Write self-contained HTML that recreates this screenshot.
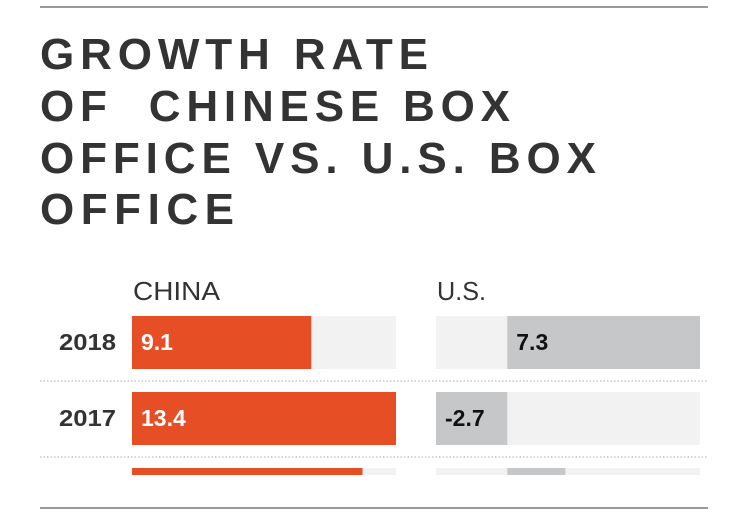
<!DOCTYPE html>
<html><head><meta charset="utf-8"><style>
html,body{margin:0;padding:0;background:#fff;}
svg{display:block;font-family:"Liberation Sans",sans-serif;}
</style></head><body>
<svg id="chart" width="750" height="521" viewBox="0 0 750 521" xmlns="http://www.w3.org/2000/svg">
  <rect x="40" y="6" width="668" height="2" fill="#999"/>
  <g fill="#333" font-weight="bold" font-size="44">
    <text x="40" y="69" textLength="388" lengthAdjust="spacing">GROWTH RATE</text>
    <text x="40" y="121" textLength="470" lengthAdjust="spacing" xml:space="preserve">OF  CHINESE BOX</text>
    <text x="40" y="173" textLength="556" lengthAdjust="spacing">OFFICE VS. U.S. BOX</text>
    <text x="40" y="224" textLength="194" lengthAdjust="spacing">OFFICE</text>
  </g>
  <text x="133" y="300" font-size="26" fill="#333" textLength="87" lengthAdjust="spacingAndGlyphs">CHINA</text>
  <text x="437" y="300" font-size="26" fill="#333" textLength="49" lengthAdjust="spacingAndGlyphs">U.S.</text>
  <g id="rows"></g>
  <rect x="40" y="507" width="668" height="2" fill="#999"/>
</svg>
<script>
const years = ["2018", "2017", "2016"];
const chinaValues = [9.1, 13.4, 11.7];
const usValues = [7.3, -2.7, 2.2];
const chinaDomain = [0, 13.4];
const usDomain = [-2.7, 7.3];

const NS = "http://www.w3.org/2000/svg";
const g = document.getElementById("rows");
const chinaX = v => 132 + (v - chinaDomain[0]) / (chinaDomain[1] - chinaDomain[0]) * 264;
const usX = v => 436 + (v - usDomain[0]) / (usDomain[1] - usDomain[0]) * 264;
const rowY = i => 316 + i * 76;
function mk(tag, attrs) {
  const e = document.createElementNS(NS, tag);
  for (const k in attrs) e.setAttribute(k, attrs[k]);
  g.appendChild(e);
  return e;
}
years.forEach((yr, i) => {
  const y = rowY(i);
  const h = Math.min(53, 475 - y);
  let e;
  e = mk("rect", {x: 132, y: y, width: 264, height: h, fill: "#f2f2f2"});
  
  
  e = mk("rect", {x: chinaX(0), y: y, width: chinaX(chinaValues[i]) - chinaX(0), height: h, fill: "#e64e25"});
  
  
  e = mk("rect", {x: 436, y: y, width: 264, height: h, fill: "#f2f2f2"});
  
  
  const x0 = usX(Math.min(0, usValues[i])), x1 = usX(Math.max(0, usValues[i]));
  e = mk("rect", {x: x0, y: y, width: x1 - x0, height: h, fill: "#c6c7c9"});
  
  
  if (h >= 53) {
    e = mk("text", {x: 116, y: y + 34, "text-anchor": "end", "font-size": 23, "font-weight": "bold", fill: "#333", textLength: 57, lengthAdjust: "spacingAndGlyphs"});
    e.textContent = yr;
    
    
    e = mk("text", {x: 141, y: y + 34, "font-size": 23, "font-weight": "bold", fill: "#fff"});
    e.textContent = chinaValues[i].toFixed(1);
    
    
    e = mk("text", {x: x0 + 9, y: y + 34, "font-size": 23, "font-weight": "bold", fill: "#111"});
    e.textContent = usValues[i].toFixed(1);
    
    
    e = mk("line", {x1: 40, x2: 708, y1: y + 65, y2: y + 65, stroke: "#c8c8c8", "stroke-width": 1.5, "stroke-dasharray": "1.5 2"});
    
    
  }
});
</script>
</body></html>
